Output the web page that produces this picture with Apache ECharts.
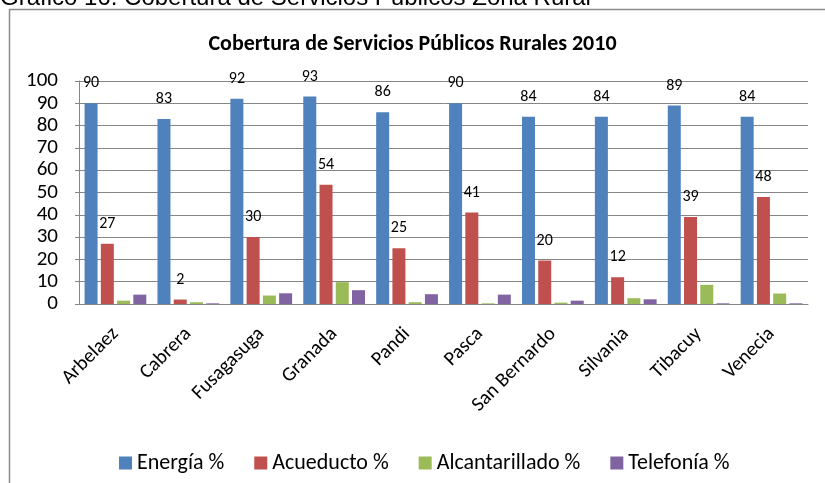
<!DOCTYPE html>
<html>
<head>
<meta charset="utf-8">
<script src="https://cdn.jsdelivr.net/npm/echarts@6/dist/echarts.min.js"></script>
<style>
  html, body { margin: 0; padding: 0; background: #fff; }
  #main { width: 825px; height: 483px; }
</style>
</head>
<body>
<div id="main"></div>
<script>
var municipios = ['Arbelaez', 'Cabrera', 'Fusagasuga', 'Granada', 'Pandi', 'Pasca', 'San Bernardo', 'Silvania', 'Tibacuy', 'Venecia'];
var energia = [90, 83, 92, 93, 86, 90, 84, 84, 89, 84];
var acueducto = [27, 2, 30, 53.5, 25, 41, 19.5, 12, 39, 48];
var alcantarillado = [1.5, 0.8, 3.8, 9.8, 0.8, 0.3, 0.6, 2.6, 8.6, 4.7];
var telefonia = [4.2, 0.3, 4.8, 6.2, 4.4, 4.2, 1.5, 2.1, 0.3, 0.3];
var yTicks = [0, 10, 20, 30, 40, 50, 60, 70, 80, 90, 100];

var fuente = 'Carlito, "Liberation Sans", sans-serif';

var myChart = echarts.init(document.getElementById('main'));

// etiquetas solo para energia y acueducto
var etiqueta = {
    show: true,
    position: 'top',
    distance: 12,
    color: '#000',
    fontSize: 16,
    fontFamily: fuente,
    formatter: function (p) { return Math.round(p.value); }
};

function serie(nombre, datos, color, conEtiqueta) {
    return {
        name: nombre,
        type: 'bar',
        data: datos,
        barWidth: 13,
        barGap: '25%',
        itemStyle: { color: color },
        label: conEtiqueta ? etiqueta : { show: false }
    };
}

option = {
    animation: false,
    backgroundColor: '#fff',
    graphic: [
        {
            type: 'text',
            x: 0,
            y: 10,
            style: {
                text: 'Gráfico 16. Cobertura de Servicios Públicos Zona Rural',
                font: '24px "Liberation Sans", sans-serif',
                fill: '#000',
                verticalAlign: 'bottom'
            }
        },
        {
            type: 'rect',
            shape: { x: 9.5, y: 9.5, width: 830, height: 490 },
            style: { fill: 'none', stroke: '#8c8c8c', lineWidth: 1.5 }
        }
    ],
    title: {
        text: 'Cobertura de Servicios Públicos Rurales 2010',
        left: 'center',
        top: 28,
        textStyle: { fontSize: 22, fontWeight: 'bold', color: '#000', fontFamily: fuente }
    },
    legend: {
        data: ['Energía %', 'Acueducto %', 'Alcantarillado %', 'Telefonía %'],
        left: 114,
        top: 447,
        itemWidth: 13,
        itemHeight: 13,
        itemGap: 30,
        icon: 'rect',
        textStyle: { fontSize: 22, color: '#000', fontFamily: fuente }
    },
    grid: {
        left: 79,
        right: 17,
        top: 81,
        bottom: 179,
        containLabel: false
    },
    xAxis: {
        type: 'category',
        data: municipios,
        axisLine: { lineStyle: { color: '#868686' } },
        axisTick: { show: false },
        axisLabel: {
            rotate: 45,
            margin: 27,
            color: '#000',
            fontSize: 20,
            fontFamily: fuente
        }
    },
    yAxis: {
        type: 'value',
        min: yTicks[0],
        max: yTicks[yTicks.length - 1],
        interval: 10,
        axisLine: { show: true, lineStyle: { color: '#868686' } },
        axisTick: { show: true, length: 4, lineStyle: { color: '#868686' } },
        splitLine: { lineStyle: { color: '#868686', width: 1 } },
        axisLabel: { color: '#000', fontSize: 21, margin: 21, fontFamily: fuente }
    },
    series: [
        serie('Energía %', energia, '#4F81BD', true),
        serie('Acueducto %', acueducto, '#C0504D', true),
        serie('Alcantarillado %', alcantarillado, '#9BBB59', false),
        serie('Telefonía %', telefonia, '#8064A2', false)
    ]
};
myChart.setOption(option);
</script>
</body>
</html>
